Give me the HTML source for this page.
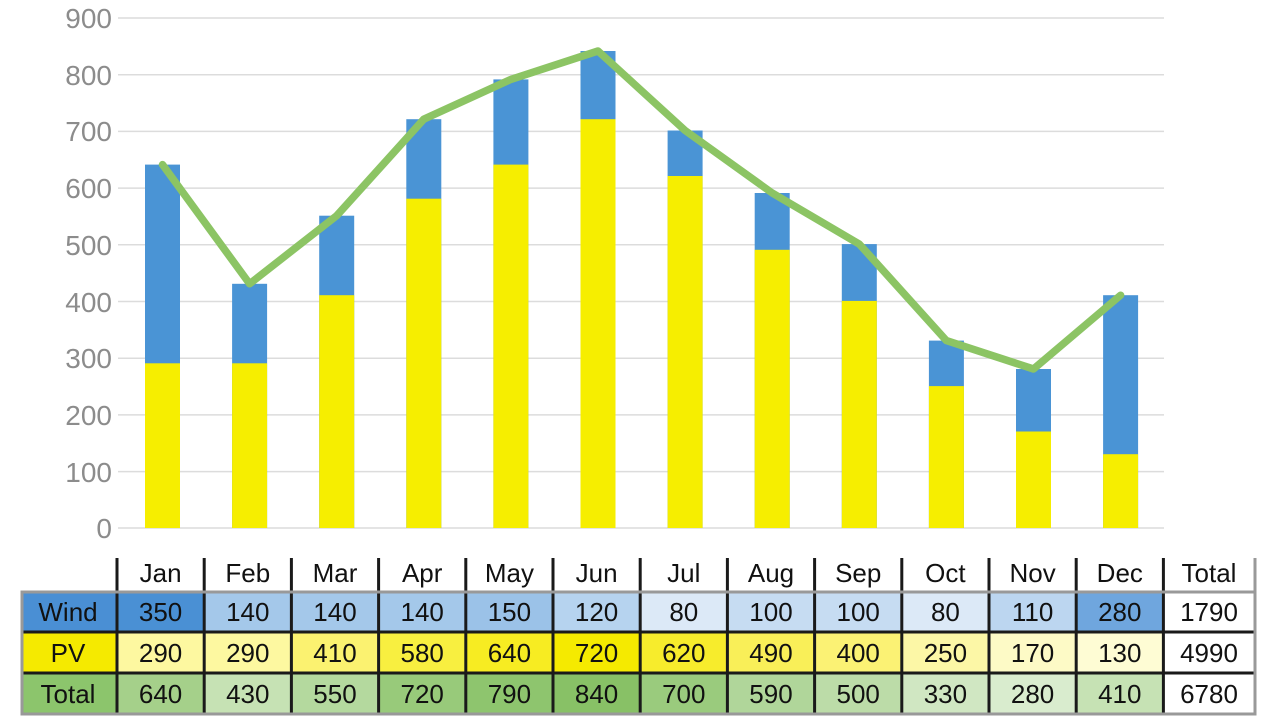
<!DOCTYPE html>
<html><head><meta charset="utf-8"><style>
html,body{margin:0;padding:0;background:#fff;width:1280px;height:720px;overflow:hidden}
svg{display:block}
text{font-family:"Liberation Sans",sans-serif}
</style></head><body>
<svg width="1280" height="720" viewBox="0 0 1280 720">
<g stroke="#dcdcdc" stroke-width="1.5">
<line x1="118" x2="1164" y1="18" y2="18"/><line x1="118" x2="1164" y1="74.7" y2="74.7"/>
<line x1="118" x2="1164" y1="131.4" y2="131.4"/><line x1="118" x2="1164" y1="188.1" y2="188.1"/>
<line x1="118" x2="1164" y1="244.8" y2="244.8"/><line x1="118" x2="1164" y1="301.5" y2="301.5"/>
<line x1="118" x2="1164" y1="358.2" y2="358.2"/><line x1="118" x2="1164" y1="414.9" y2="414.9"/>
<line x1="118" x2="1164" y1="471.6" y2="471.6"/><line x1="118" x2="1164" y1="528" y2="528"/>
</g>
<g fill="#8c8c8c" font-size="28" text-anchor="end">
<text x="112" y="28">900</text><text x="112" y="85">800</text><text x="112" y="141">700</text>
<text x="112" y="198">600</text><text x="112" y="255">500</text><text x="112" y="312">400</text>
<text x="112" y="368">300</text><text x="112" y="425">200</text><text x="112" y="482">100</text>
<text x="112" y="538">0</text>
</g>
<g fill="#4a94d5">
<rect x="145" y="164.6" width="35" height="363.4"/><rect x="232.1" y="283.8" width="35" height="244.2"/>
<rect x="319.2" y="215.7" width="35" height="312.3"/><rect x="406.3" y="119.2" width="35" height="408.8"/>
<rect x="493.4" y="79.4" width="35" height="448.6"/><rect x="580.5" y="51" width="35" height="477"/>
<rect x="667.6" y="130.5" width="35" height="397.5"/><rect x="754.7" y="193" width="35" height="335"/>
<rect x="841.8" y="244.1" width="35" height="283.9"/><rect x="928.9" y="340.6" width="35" height="187.4"/>
<rect x="1016" y="369" width="35" height="159"/><rect x="1103.1" y="295.2" width="35" height="232.8"/>
</g>
<g fill="#f6ee00">
<rect x="145" y="363.3" width="35" height="164.7"/><rect x="232.1" y="363.3" width="35" height="164.7"/>
<rect x="319.2" y="295.2" width="35" height="232.8"/><rect x="406.3" y="198.7" width="35" height="329.3"/>
<rect x="493.4" y="164.6" width="35" height="363.4"/><rect x="580.5" y="119.2" width="35" height="408.8"/>
<rect x="667.6" y="176" width="35" height="352"/><rect x="754.7" y="249.8" width="35" height="278.2"/>
<rect x="841.8" y="300.9" width="35" height="227.1"/><rect x="928.9" y="386.1" width="35" height="141.9"/>
<rect x="1016" y="431.5" width="35" height="96.5"/><rect x="1103.1" y="454.2" width="35" height="73.8"/>
</g>
<polyline fill="none" stroke="#8cc464" stroke-width="7.5" stroke-linecap="round" stroke-linejoin="round"
points="162.5,164.6 249.6,283.8 336.7,215.7 423.8,119.2 510.9,79.4 598,51 685.1,130.5 772.2,193 859.3,244.1 946.4,340.6 1033.5,369 1120.6,295.2"/>

<g>
<rect x="22" y="592" width="95" height="40" fill="#4a8fd4"/>
<rect x="22" y="632" width="95" height="41" fill="#f5ea00"/>
<rect x="22" y="673" width="95" height="41" fill="#8cc56c"/>
<rect x="117" y="592" width="87.2" height="40" fill="#4a90d4"/>
<rect x="204.2" y="592" width="87.2" height="40" fill="#a4c8ea"/>
<rect x="291.4" y="592" width="87.2" height="40" fill="#a4c8ea"/>
<rect x="378.6" y="592" width="87.2" height="40" fill="#a4c8ea"/>
<rect x="465.8" y="592" width="87.2" height="40" fill="#9bc2e8"/>
<rect x="553" y="592" width="87.2" height="40" fill="#b6d3ef"/>
<rect x="640.2" y="592" width="87.2" height="40" fill="#dce9f7"/>
<rect x="727.4" y="592" width="87.2" height="40" fill="#c6dcf2"/>
<rect x="814.6" y="592" width="87.2" height="40" fill="#c6dcf2"/>
<rect x="901.8" y="592" width="87.2" height="40" fill="#dce9f7"/>
<rect x="989" y="592" width="87.2" height="40" fill="#bcd6f0"/>
<rect x="1076.2" y="592" width="87.2" height="40" fill="#6fa6de"/>
<rect x="117" y="632" width="87.2" height="41" fill="#fdf8a0"/>
<rect x="204.2" y="632" width="87.2" height="41" fill="#fdf8a0"/>
<rect x="291.4" y="632" width="87.2" height="41" fill="#fbf270"/>
<rect x="378.6" y="632" width="87.2" height="41" fill="#f8ef40"/>
<rect x="465.8" y="632" width="87.2" height="41" fill="#f7ec22"/>
<rect x="553" y="632" width="87.2" height="41" fill="#f5ea00"/>
<rect x="640.2" y="632" width="87.2" height="41" fill="#f7ec2c"/>
<rect x="727.4" y="632" width="87.2" height="41" fill="#f9ef58"/>
<rect x="814.6" y="632" width="87.2" height="41" fill="#fbf274"/>
<rect x="901.8" y="632" width="87.2" height="41" fill="#fcf7a6"/>
<rect x="989" y="632" width="87.2" height="41" fill="#fdfac6"/>
<rect x="1076.2" y="632" width="87.2" height="41" fill="#fefcd4"/>
<rect x="117" y="673" width="87.2" height="41" fill="#a5d08a"/>
<rect x="204.2" y="673" width="87.2" height="41" fill="#c6e2b4"/>
<rect x="291.4" y="673" width="87.2" height="41" fill="#b4d99e"/>
<rect x="378.6" y="673" width="87.2" height="41" fill="#98ca7a"/>
<rect x="465.8" y="673" width="87.2" height="41" fill="#8ec56e"/>
<rect x="553" y="673" width="87.2" height="41" fill="#88c166"/>
<rect x="640.2" y="673" width="87.2" height="41" fill="#9acb7d"/>
<rect x="727.4" y="673" width="87.2" height="41" fill="#b0d69a"/>
<rect x="814.6" y="673" width="87.2" height="41" fill="#bcdca8"/>
<rect x="901.8" y="673" width="87.2" height="41" fill="#d0e7c2"/>
<rect x="989" y="673" width="87.2" height="41" fill="#d9ecce"/>
<rect x="1076.2" y="673" width="87.2" height="41" fill="#c6e2b4"/>
</g>
<g stroke="#1a1a1a" stroke-width="3">
<line x1="117" x2="117" y1="558" y2="714"/><line x1="204.2" x2="204.2" y1="558" y2="714"/>
<line x1="291.4" x2="291.4" y1="558" y2="714"/><line x1="378.6" x2="378.6" y1="558" y2="714"/>
<line x1="465.8" x2="465.8" y1="558" y2="714"/><line x1="553" x2="553" y1="558" y2="714"/>
<line x1="640.2" x2="640.2" y1="558" y2="714"/><line x1="727.4" x2="727.4" y1="558" y2="714"/>
<line x1="814.6" x2="814.6" y1="558" y2="714"/><line x1="901.8" x2="901.8" y1="558" y2="714"/>
<line x1="989" x2="989" y1="558" y2="714"/><line x1="1076.2" x2="1076.2" y1="558" y2="714"/>
<line x1="1163.4" x2="1163.4" y1="558" y2="714"/>
<line x1="22" x2="1255" y1="632" y2="632"/><line x1="22" x2="1255" y1="673" y2="673"/>
</g>
<g stroke="#999" stroke-width="3" fill="none">
<rect x="22" y="592" width="1233" height="122"/>
<line x1="1255" x2="1255" y1="558" y2="592"/>
</g>
<g font-size="26" fill="#111" text-anchor="middle">
<text x="160.6" y="582">Jan</text><text x="247.8" y="582">Feb</text><text x="335" y="582">Mar</text>
<text x="422.2" y="582">Apr</text><text x="509.4" y="582">May</text><text x="596.6" y="582">Jun</text>
<text x="683.8" y="582">Jul</text><text x="771" y="582">Aug</text><text x="858.2" y="582">Sep</text>
<text x="945.4" y="582">Oct</text><text x="1032.6" y="582">Nov</text><text x="1119.8" y="582">Dec</text>
<text x="1209" y="582">Total</text>
<text x="68" y="621">Wind</text><text x="68" y="662">PV</text><text x="68" y="703">Total</text>
<text x="160.6" y="621">350</text><text x="247.8" y="621">140</text><text x="335" y="621">140</text>
<text x="422.2" y="621">140</text><text x="509.4" y="621">150</text><text x="596.6" y="621">120</text>
<text x="683.8" y="621">80</text><text x="771" y="621">100</text><text x="858.2" y="621">100</text>
<text x="945.4" y="621">80</text><text x="1032.6" y="621">110</text><text x="1119.8" y="621">280</text>
<text x="1209" y="621">1790</text>
<text x="160.6" y="662">290</text><text x="247.8" y="662">290</text><text x="335" y="662">410</text>
<text x="422.2" y="662">580</text><text x="509.4" y="662">640</text><text x="596.6" y="662">720</text>
<text x="683.8" y="662">620</text><text x="771" y="662">490</text><text x="858.2" y="662">400</text>
<text x="945.4" y="662">250</text><text x="1032.6" y="662">170</text><text x="1119.8" y="662">130</text>
<text x="1209" y="662">4990</text>
<text x="160.6" y="703">640</text><text x="247.8" y="703">430</text><text x="335" y="703">550</text>
<text x="422.2" y="703">720</text><text x="509.4" y="703">790</text><text x="596.6" y="703">840</text>
<text x="683.8" y="703">700</text><text x="771" y="703">590</text><text x="858.2" y="703">500</text>
<text x="945.4" y="703">330</text><text x="1032.6" y="703">280</text><text x="1119.8" y="703">410</text>
<text x="1209" y="703">6780</text>
</g>
</svg>
</body></html>
